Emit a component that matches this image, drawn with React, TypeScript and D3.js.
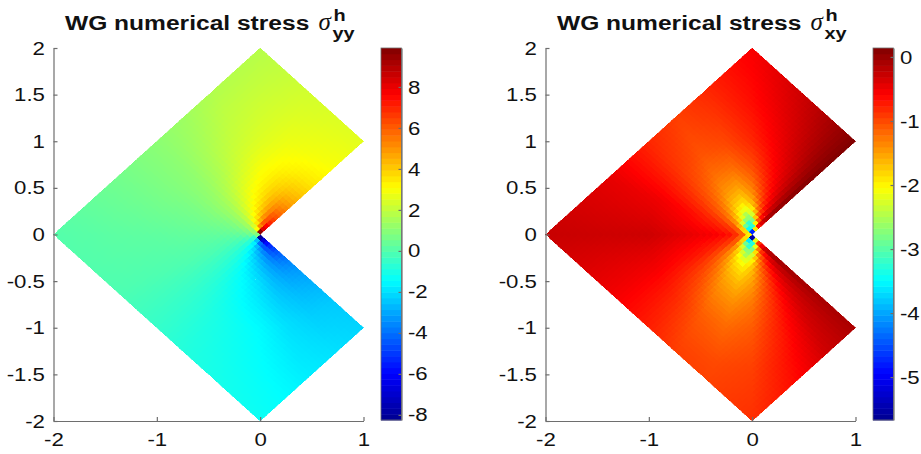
import React, { useEffect, useRef } from "react";
import * as d3 from "d3";

// values at these polar nodes around the re-entrant corner
const radii = [0.03, 0.07, 0.12, 0.2, 0.35, 0.5, 0.75, 1, 1.41, 2];
const angles = [45, 60, 75, 90, 105, 120, 135, 157, 180, 203, 225, 240, 255, 270, 285, 300, 315];

const stressYY = [
  [9.9, 9.8, 9.8, 9.8, 6, 4, 2.8, 1.4, 0.8, -0.6, -1.8, -3, -5, -8.2, -8.25, -8.25, -8.25],
  [8.6, 8.4, 7.2, 5.8, 4, 2.8, 1.9, 1.1, 0.5, -0.3, -1.4, -2.3, -3.3, -4.6, -6, -6.9, -7.2],
  [7.6, 7.4, 6.2, 4.8, 3.5, 2.6, 1.7, 1, 0.4, -0.3, -1.1, -1.8, -2.6, -3.5, -4.6, -5.5, -5.8],
  [6.6, 6.4, 5.3, 4.2, 3.2, 2.4, 1.6, 0.9, 0.3, -0.3, -1, -1.6, -2.3, -3, -3.8, -4.6, -4.9],
  [5.4, 5.2, 4.5, 3.6, 2.9, 2.2, 1.5, 0.8, 0.3, -0.2, -0.8, -1.3, -1.9, -2.5, -3.1, -3.6, -3.9],
  [4.5, 4.3, 3.9, 3.3, 2.7, 2, 1.4, 0.8, 0.3, -0.1, -0.7, -1.2, -1.6, -2.1, -2.7, -3.1, -3.3],
  [3.5, 3.4, 3.2, 2.9, 2.3, 1.7, 1.2, 0.7, 0.3, -0.05, -0.6, -1, -1.4, -1.8, -2.3, -2.6, -2.8],
  [3, 2.9, 2.8, 2.5, 2.1, 1.6, 1.1, 0.7, 0.25, -0.05, -0.55, -0.9, -1.2, -1.5, -2, -2.3, -2.4],
  [2.6, 2.5, 2.4, 2.2, 1.9, 1.4, 1.05, 0.6, 0.2, -0.05, -0.5, -0.85, -1.1, -1.4, -1.8, -2, -2.2],
  [2.2, 2.2, 2, 1.8, 1.5, 1.2, 0.9, 0.5, 0.05, -0.1, -0.5, -0.8, -1, -1.25, -1.5, -1.7, -1.9],
];

const stressXY = [
  [-1, -1.5, -3, -4.8, -4, -3.5, -3, -2.3, -2, -2.3, -3, -3.5, -4, -5.6, -4, -1.9, -1],
  [-0.8, -1.7, -2.6, -3.3, -3.5, -3.5, -2.6, -1.7, -1.3, -1.7, -2.6, -3.6, -3.7, -3.4, -2.8, -2, -1],
  [-0.3, -0.7, -2, -3.2, -3.3, -3, -2.2, -1.3, -1, -1.3, -2.2, -3, -3.3, -3.2, -2.2, -0.9, -0.4],
  [0, -0.5, -1.2, -2.4, -2.7, -2.1, -1.6, -1, -0.7, -1, -1.6, -2.2, -2.7, -2.4, -1.4, -0.7, 0],
  [0.1, -0.4, -0.95, -1.6, -1.9, -1.7, -1.3, -0.85, -0.55, -0.85, -1.4, -1.8, -2, -1.7, -1.1, -0.5, 0.05],
  [0.12, -0.35, -0.8, -1.3, -1.55, -1.45, -1.15, -0.75, -0.5, -0.75, -1.2, -1.55, -1.7, -1.5, -1, -0.45, 0],
  [0.14, -0.28, -0.62, -1, -1.2, -1.2, -1, -0.6, -0.4, -0.65, -1, -1.3, -1.4, -1.25, -0.85, -0.4, -0.05],
  [0.14, -0.2, -0.5, -0.8, -1, -1.05, -0.9, -0.5, -0.3, -0.55, -0.85, -1.1, -1.2, -1.1, -0.75, -0.35, -0.08],
  [0.14, -0.12, -0.38, -0.65, -0.85, -0.95, -0.8, -0.45, -0.3, -0.5, -0.75, -0.95, -1, -0.95, -0.65, -0.3, -0.1],
  [0.14, -0.05, -0.28, -0.55, -0.7, -0.85, -0.7, -0.4, -0.27, -0.45, -0.65, -0.85, -0.9, -0.85, -0.6, -0.3, -0.1],
];

const xTicks = [-2, -1, 0, 1];
const yTicks = [-2, -1.5, -1, -0.5, 0, 0.5, 1, 1.5, 2];
const yyColorTicks = [-8, -6, -4, -2, 0, 2, 4, 6, 8];
const xyColorTicks = [-5, -4, -3, -2, -1, 0];
const yyRange = [-8.25, 9.9];
const xyRange = [-5.67, 0.14];

const FONT = "'Liberation Sans', Arial, sans-serif";
const AXIS_COLOR = "#6e6e6e";
const TEXT_COLOR = "#111";
const WIDEN = 1.17; // the reference was stretched sideways, its text too
const meshSize = 64; // the mesh in the picture has 64 cells per side

const jet = d3
  .scaleLinear<string>()
  .domain([0, 0.125, 0.375, 0.625, 0.875, 1])
  .range(["#00008f", "#0000ff", "#00ffff", "#ffff00", "#ff0000", "#800000"])
  .clamp(true);

const bracket = (nodes: number[], v: number): [number, number] => {
  const i = Math.max(0, Math.min(nodes.length - 2, d3.bisectRight(nodes, v) - 1));
  const f = (v - nodes[i]) / (nodes[i + 1] - nodes[i]);
  return [i, Math.max(0, Math.min(1, f))];
};

const logRadii = radii.map(Math.log);

// shades a mesh cell from the four table nodes around it
const lookup = (table: number[][], x: number, y: number) => {
  const r = Math.hypot(x, y);
  let a = (Math.atan2(y, x) * 180) / Math.PI;
  if (a < 0) a += 360;
  const [i, fr] = bracket(logRadii, Math.log(r));
  const [j, fa] = bracket(angles, a);
  const low = table[i][j] * (1 - fa) + table[i][j + 1] * fa;
  const high = table[i + 1][j] * (1 - fa) + table[i + 1][j + 1] * fa;
  return low * (1 - fr) + high * fr;
};

const drawPanel = (
  svg: d3.Selection<SVGSVGElement, unknown, null, undefined>,
  opts: {
    left: number;
    table: number[][];
    range: number[];
    colorTicks: number[];
    sub: string;
  }
) => {
  const { left, table, range, colorTicks, sub } = opts;
  const top = 48;
  const bottom = 421;
  const x = d3.scaleLinear().domain([-2, 1]).range([left, left + 310]);
  const y = d3.scaleLinear().domain([-2, 2]).range([bottom, top]);
  const g = svg.append("g");

  const t = d3.scaleLinear().domain(range).range([0, 1]);
  const step = 2 / meshSize;
  const cells: { u: number; v: number }[] = [];
  d3.range(meshSize).forEach((i) =>
    d3.range(meshSize).forEach((j) => {
      const u = -1 + i * step;
      const v = -1 + j * step;
      if (!(u >= 0 && v < 0)) cells.push({ u, v });
    })
  );
  const corner = (u: number, v: number) => `${x(u - v)},${y(u + v)}`;
  const cellColor = (c: { u: number; v: number }) => {
    const cu = c.u + step / 2;
    const cv = c.v + step / 2;
    return jet(t(lookup(table, cu - cv, cu + cv)));
  };
  g.append("g")
    .attr("shape-rendering", "crispEdges")
    .selectAll("path")
    .data(cells)
    .enter()
    .append("path")
    .attr(
      "d",
      (c) =>
        `M${corner(c.u, c.v)}L${corner(c.u + step, c.v)}L${corner(c.u + step, c.v + step)}L${corner(c.u, c.v + step)}Z`
    )
    .attr("fill", cellColor)
    .attr("stroke", cellColor)
    .attr("stroke-width", 0.5);

  const styleAxis = (a: d3.Selection<SVGGElement, unknown, null, undefined>) => {
    a.selectAll("path,line").attr("stroke", AXIS_COLOR).attr("stroke-width", 1.2);
    a.selectAll("text")
      .attr("font-family", FONT)
      .attr("font-size", 19)
      .attr("fill", TEXT_COLOR)
      .attr("transform", `scale(${WIDEN},1)`);
  };
  const fmt = (d: d3.NumberValue) => String(d);

  g.append("g")
    .attr("transform", `translate(0,${bottom})`)
    .call(d3.axisBottom(x).tickValues(xTicks).tickFormat(fmt).tickSize(-4).tickSizeOuter(0).tickPadding(12))
    .call(styleAxis);
  g.append("g")
    .attr("transform", `translate(${left},0)`)
    .call(d3.axisLeft(y).tickValues(yTicks).tickFormat(fmt).tickSize(-4).tickSizeOuter(0).tickPadding(7.3))
    .call(styleAxis);

  // colorbar
  const barLeft = left + 327.5;
  const barWidth = 20.5;
  const levels = d3.range(64);
  const band = d3.scaleBand<number>().domain(levels).range([bottom - 1, top]);
  g.selectAll("rect.level")
    .data(levels)
    .enter()
    .append("rect")
    .attr("class", "level")
    .attr("x", barLeft)
    .attr("y", (d) => band(d)!)
    .attr("width", barWidth)
    .attr("height", band.bandwidth() + 0.5)
    .attr("fill", (d) => jet((d + 0.5) / 64));
  const cScale = d3.scaleLinear().domain(range).range([bottom - 1, top]);
  g.append("g")
    .attr("transform", `translate(${barLeft + barWidth},0)`)
    .call(d3.axisRight(cScale).tickValues(colorTicks).tickFormat(fmt).tickSize(-3).tickSizeOuter(0).tickPadding(5.5))
    .call(styleAxis);
  g.append("rect")
    .attr("x", barLeft)
    .attr("y", top)
    .attr("width", barWidth)
    .attr("height", bottom - 1 - top)
    .attr("fill", "none")
    .attr("stroke", AXIS_COLOR)
    .attr("stroke-width", 0.8);

  // title
  const label = (px: number, py: number, size: number, text: string) =>
    g
      .append("text")
      .attr("transform", `translate(${px},${py}) scale(${WIDEN},1)`)
      .attr("font-family", FONT)
      .attr("font-weight", "bold")
      .attr("font-size", size)
      .attr("fill", TEXT_COLOR)
      .text(text);
  label(left + 11.5, 30, 21, "WG numerical stress");
  label(left + 280, 21, 17, "h");
  label(left + 279, 38.5, 17, sub);
  g.append("text")
    .attr("x", left + 265)
    .attr("y", 30)
    .attr("font-family", "'Liberation Serif', serif")
    .attr("font-style", "italic")
    .attr("font-size", 25)
    .attr("fill", TEXT_COLOR)
    .text("σ");
};

const App = () => {
  const ref = useRef<SVGSVGElement>(null);

  useEffect(() => {
    const svg = d3.select(ref.current!);
    svg.selectAll("*").remove();
    drawPanel(svg, { left: 53.5, table: stressYY, range: yyRange, colorTicks: yyColorTicks, sub: "yy" });
    drawPanel(svg, { left: 545.5, table: stressXY, range: xyRange, colorTicks: xyColorTicks, sub: "xy" });
  }, []);

  return (
    <svg
      ref={ref}
      width={921}
      height={454}
      style={{ position: "absolute", left: 0, top: 0, background: "#fff" }}
    />
  );
};

export default App;
